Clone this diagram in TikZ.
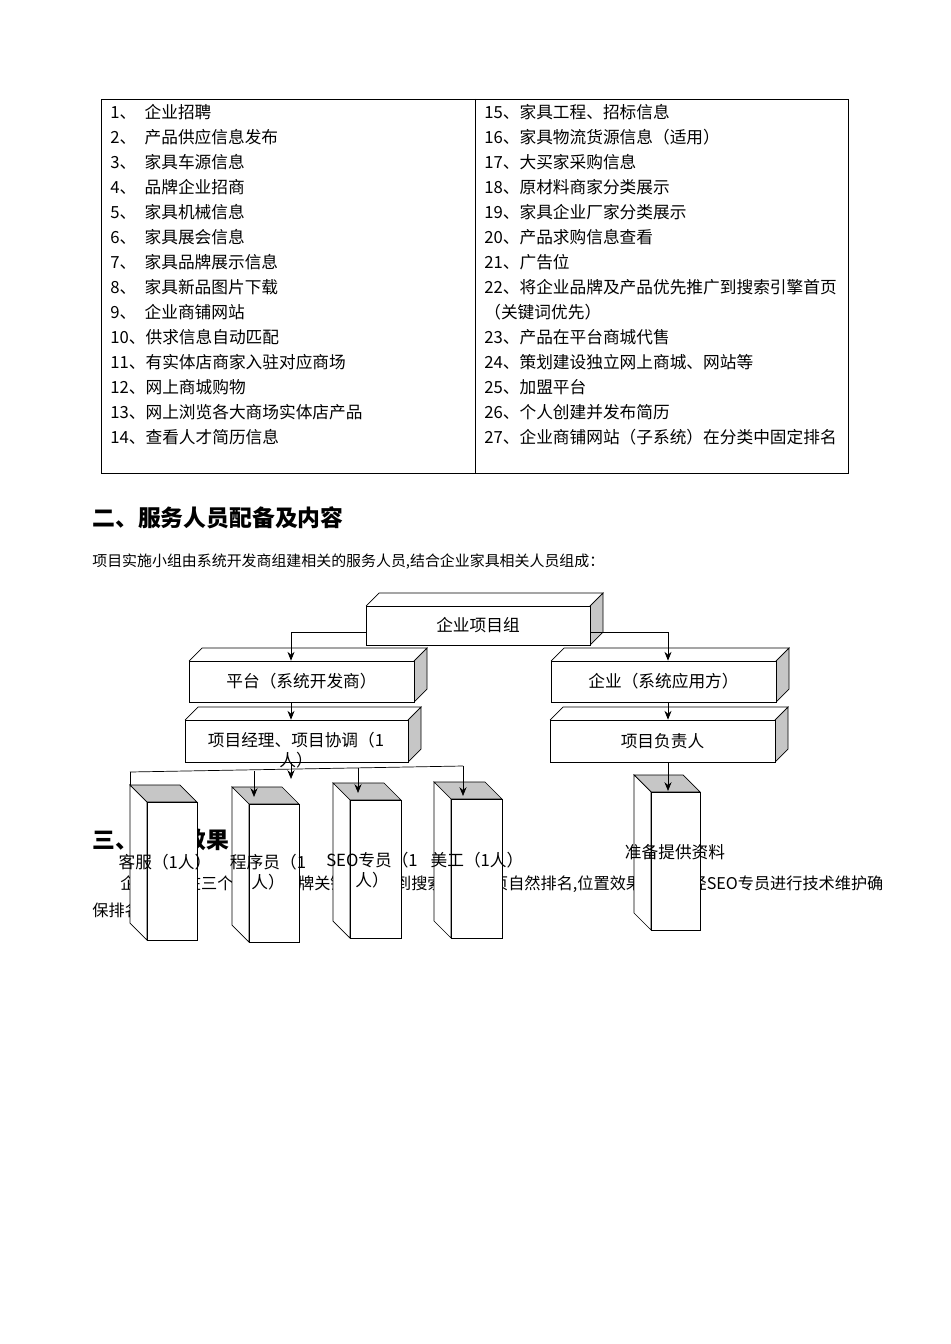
\documentclass[tikz,border=0pt]{standalone}
\usepackage{fontspec}
\setmainfont{Liberation Serif}
\newfontfamily\cjk{Noto Sans CJK SC}
\usetikzlibrary{fit,arrows.meta}
\newcommand\flatbox[6]{%
  \fill[white] (#2,#3) -- ++(13,-13) -- (#4+13,#3-13) -- (#4,#3) -- cycle;
  \draw (#2,#3) -- ++(13,-13) -- (#4+13,#3-13) -- (#4,#3);
  \filldraw[fill=gray!45] (#4,#3) -- (#4+13,#3-13) -- (#4+13,#5-13) -- (#4,#5) -- cycle;
  \node[fbox,fit={(#2,#3)(#4,#5)}] (#1) {};
  \node[lbl] at (#1) {#6};}
\newcommand\colbox[5]{%
  \filldraw[fill=gray!45] (#2,#3) -- ++(-17,-17) -- (#4-17,#3-17) -- (#4,#3) -- cycle;
  \filldraw[fill=white] (#2,#3) -- ++(-17,-17) -- (#2-17,#5-17) -- (#2,#5) -- cycle;
  \node[fbox,fit={(#2,#3)(#4,#5)}] (#1) {};}
\begin{document}
\begin{tikzpicture}[x=0.02cm,y=-0.02cm,
  fbox/.style={draw,fill=white,inner sep=0pt},
  lbl/.style={font=\cjk\fontsize{9.5}{11}\selectfont},
  txt/.style={font=\cjk\fontsize{9.5}{12}\selectfont,anchor=west,inner sep=0pt},
  arr/.style={-{Stealth[length=5pt,width=4pt]}}]
\useasboundingbox (0,0) rectangle (950,1344);
% table
\node[draw,minimum width=747*0.02cm,minimum height=374*0.02cm,anchor=north west,inner sep=0] (tab) at (101,99) {};
\draw (475,99) -- (475,473);
\foreach \t [count=\i] in {1、\enspace 企业招聘,2、\enspace 产品供应信息发布,3、\enspace 家具车源信息,4、\enspace 品牌企业招商,5、\enspace 家具机械信息,6、\enspace 家具展会信息,7、\enspace 家具品牌展示信息,8、\enspace 家具新品图片下载,9、\enspace 企业商铺网站,10、供求信息自动匹配,11、有实体店商家入驻对应商场,12、网上商城购物,13、网上浏览各大商场实体店产品,14、查看人才简历信息}
  \node[txt] (l\i) at (110,112+25*\i-25) {\t};
\foreach \t [count=\i] in {15、家具工程、招标信息,16、家具物流货源信息（适用）,17、大买家采购信息,18、原材料商家分类展示,19、家具企业厂家分类展示,20、产品求购信息查看,21、广告位,22、将企业品牌及产品优先推广到搜索引擎首页,（关键词优先）,23、产品在平台商城代售,24、策划建设独立网上商城、网站等,25、加盟平台,26、个人创建并发布简历,27、企业商铺网站（子系统）在分类中固定排名}
  \node[txt] (r\i) at (484,112+25*\i-25) {\t};
\node[txt,font=\cjk\bfseries\fontsize{13}{15}\selectfont] (h2) at (92,518) {二、服务人员配备及内容};
\node[txt,font=\cjk\fontsize{8.5}{10}\selectfont] (p2) at (92,562) {项目实施小组由系统开发商组建相关的服务人员,结合企业家具相关人员组成：};
\node[txt,font=\cjk\bfseries\fontsize{13}{15}\selectfont] (h3) at (92,840) {三、预见效果};
\node[txt,font=\cjk\fontsize{9.2}{12}\selectfont] (p3) at (120,884) {企业项目在三个月内将品牌关键词优化到搜索引擎首页自然排名,位置效果稳定后经SEO专员进行技术维护确};
\node[txt,font=\cjk\fontsize{9.2}{12}\selectfont] (p4) at (92,910) {保排名};
% org chart
\flatbox{top}{366}{606}{590}{645}{企业项目组}
\flatbox{plat}{189}{661}{414}{702}{平台（系统开发商）}
\flatbox{ent}{551}{661}{776}{702}{企业（系统应用方）}
\flatbox{pm}{185}{720}{408}{762}{}
\node[lbl,align=center,text width=205*0.02cm] at (296,750) {项目经理、项目协调（1\\人）};
\flatbox{resp}{550}{720}{775}{762}{项目负责人}
\colbox{kf}{147}{802}{197}{940}{}
\colbox{cx}{249}{804}{299}{942}{}
\colbox{seo}{350}{800}{401}{938}{}
\colbox{mg}{451}{799}{502}{938}{}
\colbox{zb}{651}{792}{700}{930}{}
\coordinate (jl) at (130,772);
\coordinate (jr) at (463,766);
\draw (jl) -- (jr);
\draw (jl) -- (130,785);
\draw[arr] (top.west|-0,632) -| (plat.north-|291,0);
\draw[arr] (top.east|-0,632) -| (ent.north-|668,0);
\draw[arr] (plat.south-|291,0) -- (pm.north-|291,0);
\draw[arr] (ent.south-|668,0) -- (resp.north-|668,0);
\draw[arr] (pm.south-|291,0) -- (291,779);
\draw[arr] (254,771) -- (254,797);
\draw[arr] (358,768) -- (358,793);
\draw[arr] (jr) -- (463,796);
\draw[arr] (resp.south-|668,0) -- (668,791);
\node[lbl] at (165,862) {客服（1人）};
\node[lbl,align=center] at (268,872) {程序员（1\\人）};
\node[lbl,align=center] at (372,870) {SEO专员（1\\人）};
\node[lbl] at (477,860) {美工（1人）};
\node[lbl] at (675,852) {准备提供资料};
\end{tikzpicture}
\end{document}
